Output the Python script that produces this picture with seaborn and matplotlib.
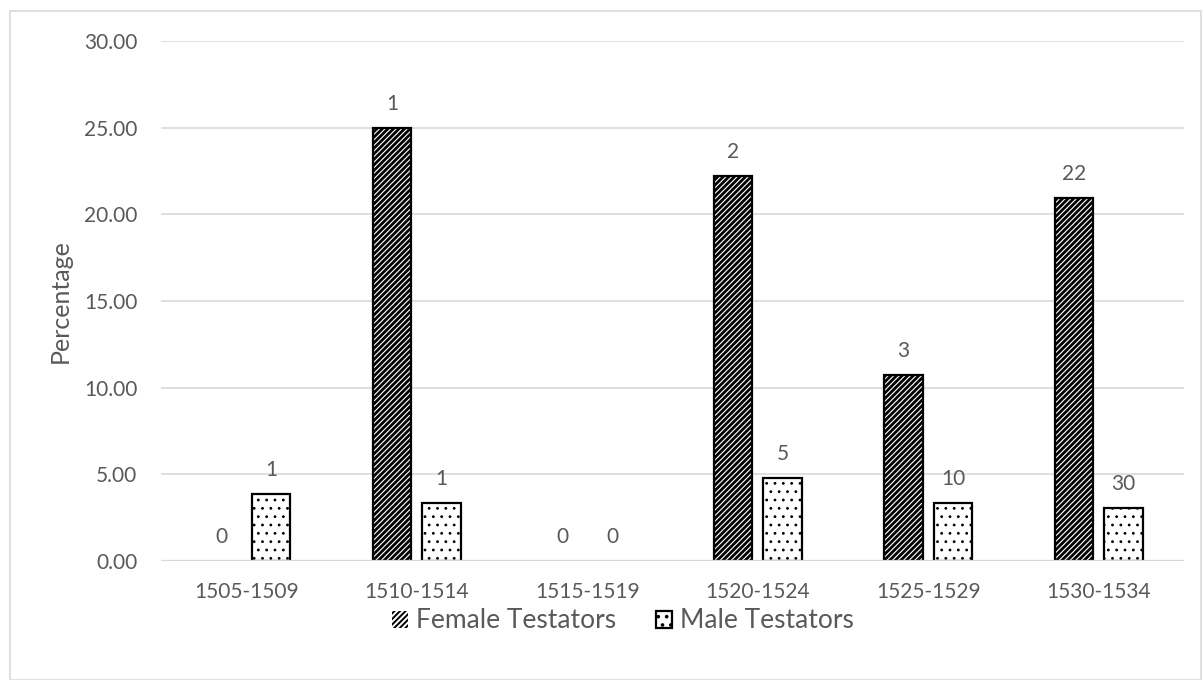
import pandas as pd
import matplotlib.pyplot as plt
import seaborn as sns
from matplotlib.patches import Rectangle

periods = ["1505-1509", "1510-1514", "1515-1519", "1520-1524", "1525-1529", "1530-1534"]
female_pct = [0.0, 25.0, 0.0, 22.22, 10.71, 20.95]
male_pct = [3.85, 3.33, 0.0, 4.81, 3.37, 3.06]
female_counts = [0, 1, 0, 2, 3, 22]
male_counts = [1, 1, 0, 5, 10, 30]
series = ["Female Testators", "Male Testators"]
y_ticks = [0, 5, 10, 15, 20, 25, 30]

sns.set_theme(style="white")
plt.rcParams["font.family"] = ["Lato", "DejaVu Sans"]
plt.rcParams["hatch.linewidth"] = 1.4

grey = "#595959"
grid = "#d9d9d9"

df = pd.DataFrame({
    "period": periods * 2,
    "pct": female_pct + male_pct,
    "series": [series[0]] * len(periods) + [series[1]] * len(periods),
})

fig = plt.figure(figsize=(12.02, 6.8), dpi=100)
ax = fig.add_axes([161 / 1202, 1 - 561 / 680, 1023 / 1202, (561 - 41) / 680])

sns.barplot(data=df, x="period", y="pct", hue="series", order=periods,
            hue_order=series, width=0.58, gap=0.22, ax=ax, legend=False,
            palette=["white", "white"], edgecolor="black", linewidth=1.6,
            zorder=3)

# pattern fills like the original Excel chart
hatches = ["//////", ".."]
hatch_lw = [2.0, 0.8]
counts = [female_counts, male_counts]
for cont, h, hlw, cnt in zip(ax.containers, hatches, hatch_lw, counts):
    for bar in cont:
        bar.set_hatch(h)
        if hasattr(bar, "set_hatch_linewidth"):
            bar.set_hatch_linewidth(hlw)
        bar.set_edgecolor("black")
        bar.set_facecolor("white")
        if bar.get_height() == 0:
            bar.set_linewidth(0)
    ax.bar_label(cont, labels=[str(c) for c in cnt], padding=10,
                 fontsize=15, color=grey)

ax.set_ylim(0, 30)
ax.set_xlim(-0.5, 5.5)
ax.set_yticks(y_ticks)
ax.set_yticklabels(["%.2f" % t for t in y_ticks])
ax.yaxis.grid(True, color=grid, linewidth=1.2, zorder=0)
ax.axhline(0, color=grid, linewidth=1.6, zorder=5)
for s in ax.spines.values():
    s.set_visible(False)
ax.tick_params(axis="both", length=0, labelsize=15, colors=grey)
ax.tick_params(axis="y", pad=17)
ax.tick_params(axis="x", pad=15)
ax.set_xlabel("")
ax.set_ylabel("Percentage", fontsize=18, color=grey, labelpad=9)

handles = [ax.containers[0][0], ax.containers[1][0]]
leg = fig.legend(handles, series, loc="center", bbox_to_anchor=(623 / 1202, 1 - 621 / 680),
                 ncol=2, frameon=False, fontsize=19, handlelength=0.6,
                 handleheight=0.6, handletextpad=0.3, columnspacing=1.5)
for t in leg.get_texts():
    t.set_color(grey)

fig.patches.append(Rectangle((10 / 1202, 0), 1191 / 1202, 1 - 11 / 680,
                             transform=fig.transFigure, fill=False,
                             edgecolor=grid, linewidth=1.2))

fig.savefig("out.png", dpi=100)
